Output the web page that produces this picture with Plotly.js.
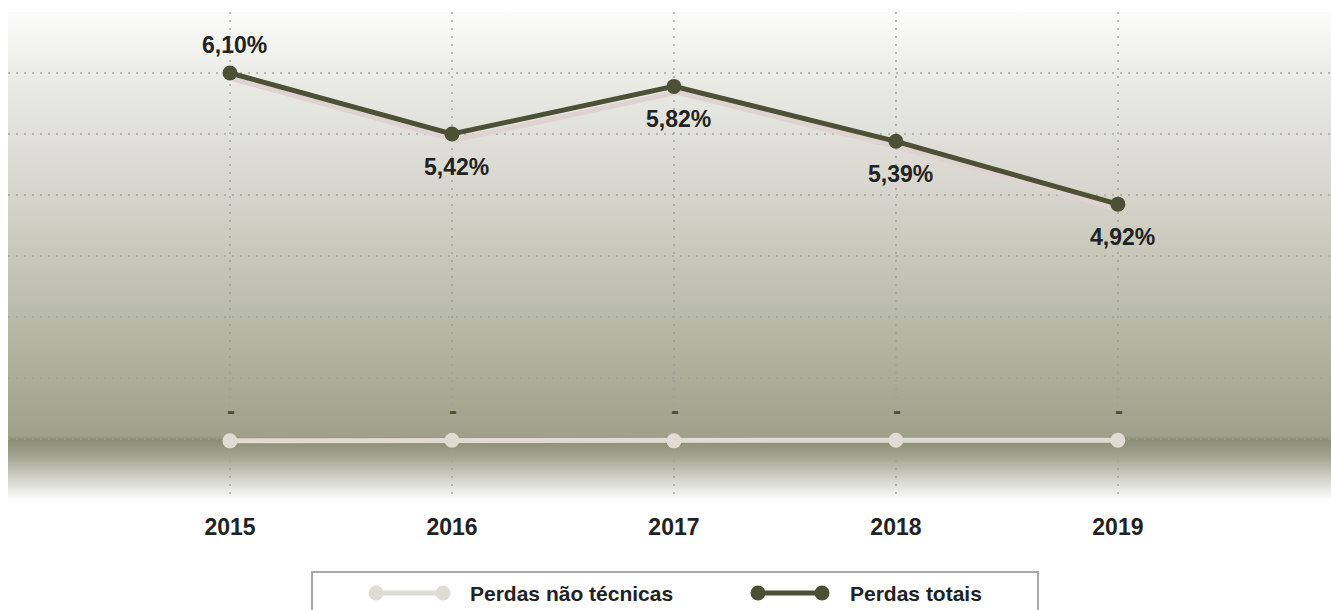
<!DOCTYPE html>
<html>
<head>
<meta charset="utf-8">
<script src="https://cdn.plot.ly/plotly-3.0.1.min.js"></script>
<style>
    html, body { margin: 0; padding: 0; background: #fff; }
    #wrap { position: relative; width: 1331px; height: 610px; overflow: hidden; }
    /* gradient behind the plot area */
    #bg {
        position: absolute; left: 8px; top: 12px; width: 1323px; height: 488px;
        background: linear-gradient(to bottom,
            #fcfcfc 0px, #ececE7 61px, #e1e1db 122px, #d5d5cc 183px,
            #c7c8b9 244px, #b9bba9 305px, #abad98 366px, #9fa18a 424px,
            #8b8e73 428px, #a3a592 445px, #cfd0c6 465px, #f3f3f1 483px, #ffffff 488px);
    }
    #plot { position: absolute; left: 0; top: 0; width: 1331px; height: 610px; }
</style>
</head>
<body>
<div id="wrap">
    <div id="bg"></div>
    <div id="plot"></div>
</div>
<script>
const years = ['2015', '2016', '2017', '2018', '2019'];
const totalPlot = [7.0, 6.0, 6.78, 5.88, 4.85];
const totalLabels = ['6,10%', '5,42%', '5,82%', '5,39%', '4,92%'];
const nonTechPlot = [0.97, 0.98, 0.97, 0.98, 0.98];
const nonTechLabels = ['-', '-', '-', '-', '-'];
const seriesNames = ['Perdas não técnicas', 'Perdas totais'];

const FONT = "'Liberation Sans', Arial, sans-serif";
const DARK = '#4c5136';
const LIGHT = '#e0dcd3';

// plot area in pixels, used for the hand drawn legend box
const L = 8, T = 12, W = 1323, H = 488;
const px = x => (x - L) / W;
const py = y => (T + H - y) / H;

const xRange = [-1, 4.96];
const yRange = [0, 8];

const traces = [
    {   // pinkish drop shadow under the total line (main axes are offset a few px)
        x: years, y: totalPlot, xaxis: 'x', yaxis: 'y',
        mode: 'lines', line: {color: '#dfd3d1', width: 5},
        hoverinfo: 'skip', showlegend: false
    },
    {
        x: years, y: nonTechPlot, xaxis: 'x2', yaxis: 'y2',
        name: seriesNames[0], mode: 'lines+markers',
        line: {color: LIGHT, width: 5}, marker: {color: LIGHT, size: 15},
        showlegend: false
    },
    {
        x: years, y: totalPlot, xaxis: 'x2', yaxis: 'y2',
        name: seriesNames[1], mode: 'lines+markers',
        line: {color: DARK, width: 5}, marker: {color: DARK, size: 15},
        showlegend: false
    }
];

// category axis: annotations are placed by category index
const annotations = [];
totalPlot.forEach((v, i) => {
    const above = i === 0;
    annotations.push({
        x: i, y: v, xref: 'x2', yref: 'y2', text: totalLabels[i],
        showarrow: false, xshift: 5, yshift: above ? 28 : -33,
        font: {family: FONT, size: 23, color: '#222', weight: 'bold'}
    });
});
nonTechPlot.forEach((v, i) => {
    annotations.push({
        x: i, y: v, xref: 'x2', yref: 'y2', text: nonTechLabels[i],
        showarrow: false, xshift: 1, yshift: 30,
        font: {family: FONT, size: 24, color: DARK, weight: 'bold'}
    });
});

// legend
const legendItems = [
    {x0: 376, x1: 443, tx: 468, color: LIGHT, text: seriesNames[0]},
    {x0: 758, x1: 822, tx: 848, color: DARK, text: seriesNames[1]}
];
const shapes = [{
    type: 'rect', xref: 'paper', yref: 'paper',
    x0: px(312), x1: px(1038), y0: py(572), y1: py(640),
    line: {color: '#a8a8a8', width: 2}, fillcolor: '#fff', layer: 'above'
}];
const ly = 593, r = 7.5;
legendItems.forEach(it => {
    shapes.push({type: 'line', xref: 'paper', yref: 'paper',
        x0: px(it.x0), x1: px(it.x1), y0: py(ly), y1: py(ly),
        line: {color: it.color, width: 5}, layer: 'above'});
    [it.x0, it.x1].forEach(cx => shapes.push({type: 'circle', xref: 'paper', yref: 'paper',
        x0: px(cx - r), x1: px(cx + r), y0: py(ly + r), y1: py(ly - r),
        fillcolor: it.color, line: {width: 0}, layer: 'above'}));
    annotations.push({xref: 'paper', yref: 'paper', x: px(it.tx), y: py(ly),
        xanchor: 'left', yanchor: 'middle', text: it.text, showarrow: false,
        font: {family: FONT, size: 21, color: '#222', weight: 'bold'}});
});

const grid = {showgrid: true, gridcolor: 'rgba(160,160,160,0.7)', gridwidth: 2, griddash: '2px,6px'};

const layout = {
    width: 1331, height: 610,
    margin: {l: L, r: 0, t: T, b: 610 - T - H, autoexpand: false},
    paper_bgcolor: 'rgba(0,0,0,0)', plot_bgcolor: 'rgba(0,0,0,0)',
    showlegend: false,
    xaxis: {type: 'category', range: [xRange[0] - 3 / 222, xRange[1] - 3 / 222],
        showgrid: false, showticklabels: false, zeroline: false, fixedrange: true},
    yaxis: {range: [yRange[0] + 6 / 61, yRange[1] + 6 / 61],
        showgrid: false, showticklabels: false, zeroline: false, fixedrange: true},
    xaxis2: Object.assign({type: 'category', overlaying: 'x', anchor: 'y2', side: 'bottom',
        range: xRange, zeroline: false, ticks: '', ticklabelstandoff: 11,
        tickfont: {family: FONT, size: 23, color: '#222', weight: 'bold'}, fixedrange: true}, grid),
    yaxis2: Object.assign({overlaying: 'y', anchor: 'x2', range: yRange,
        tickvals: [0, 1, 2, 3, 4, 5, 6, 7], showticklabels: false,
        zeroline: false, fixedrange: true}, grid),
    shapes: shapes,
    annotations: annotations
};

Plotly.newPlot('plot', traces, layout, {displayModeBar: false, staticPlot: true});
</script>
</body>
</html>
